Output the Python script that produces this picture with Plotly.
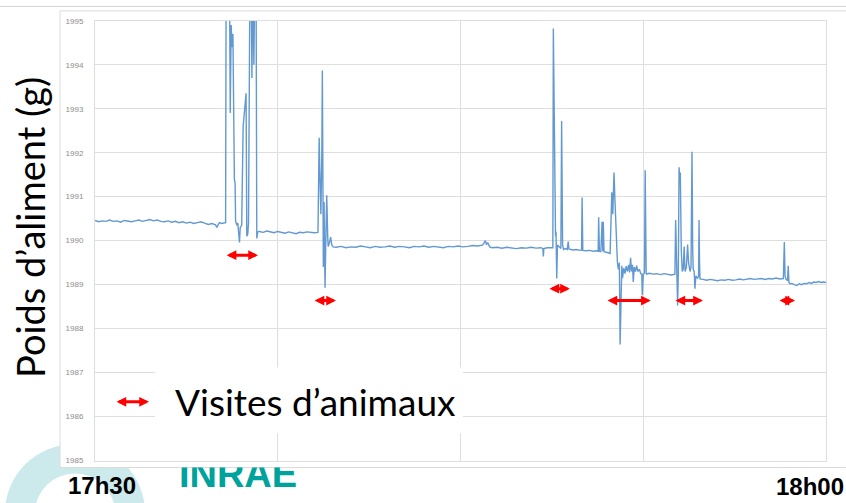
import plotly.graph_objects as go

# scale reading, minutes after 17h30 -> grams
t_min = [
    0.0, 0.15, 0.3, 0.45, 0.6, 0.75, 0.9, 1.05, 1.2, 1.35, 1.5, 1.65, 1.8, 1.95, 2.1, 2.25, 2.4, 2.55, 2.7, 2.85,
    3.0, 3.15, 3.3, 3.45, 3.6, 3.75, 3.9, 4.05, 4.2, 4.35, 4.5, 4.65, 4.8, 4.95, 5.0, 5.05, 5.1, 5.2, 5.3, 5.36,
    5.39, 5.45, 5.5, 5.55, 5.59, 5.62, 5.66, 5.72, 5.75, 5.77, 5.82, 5.86, 5.9, 5.93, 5.96, 6.02, 6.08, 6.14, 6.2,
    6.23, 6.27, 6.3, 6.34, 6.38, 6.44, 6.48, 6.52, 6.56, 6.6, 6.64, 6.68,
    6.75, 6.9, 7.05, 7.2, 7.35, 7.5, 7.65, 7.8, 7.95, 8.1, 8.25, 8.4, 8.55, 8.7, 8.85, 9.0, 9.15,
    9.2, 9.23, 9.27, 9.31, 9.33, 9.36, 9.37, 9.4, 9.42, 9.44, 9.48, 9.51, 9.55, 9.57, 9.62, 9.67, 9.72, 9.77,
    9.9, 10.1, 10.3, 10.5, 10.7, 10.9, 11.1, 11.3, 11.5, 11.7, 11.9, 12.1, 12.3, 12.5, 12.7, 12.9, 13.1, 13.3,
    13.5, 13.7, 13.9, 14.1, 14.3, 14.5, 14.7, 14.9, 15.1, 15.3, 15.5, 15.7, 15.9, 15.98, 16.02, 16.06, 16.12,
    16.2, 16.3, 16.5, 16.7, 16.9, 17.1, 17.3, 17.5, 17.7, 17.9, 18.1, 18.3, 18.38, 18.4, 18.42, 18.55, 18.7, 18.79,
    18.81, 18.86, 18.9, 18.92, 18.95, 18.98, 19.05, 19.12, 19.15, 19.19, 19.23, 19.3, 19.38, 19.42, 19.45, 19.6,
    19.75, 19.9, 19.97, 19.99, 20.02, 20.15, 20.3, 20.45, 20.6, 20.65, 20.67, 20.7, 20.76, 20.81, 20.84, 20.86,
    20.89, 21.0, 21.1, 21.14,
    21.21, 21.25, 21.3, 21.34, 21.38, 21.44, 21.48, 21.52, 21.55, 21.59, 21.62, 21.65, 21.7, 21.75, 21.8, 21.85,
    21.9, 21.94, 21.98, 22.02, 22.06, 22.09, 22.13, 22.18, 22.23, 22.28, 22.34, 22.4, 22.44, 22.46, 22.5, 22.55,
    22.58, 22.62, 22.64,
    22.75, 22.9, 23.05, 23.2, 23.35, 23.5, 23.65, 23.8,
    23.83, 23.87, 23.91, 23.94, 23.97, 24.0, 24.02, 24.06, 24.1, 24.14, 24.18, 24.2, 24.22, 24.27, 24.32, 24.36,
    24.42, 24.46, 24.5, 24.53, 24.55, 24.59, 24.62, 24.66, 24.72, 24.77, 24.79, 24.81, 24.83,
    24.95, 25.1, 25.25, 25.4, 25.55, 25.7, 25.85, 26.0, 26.15, 26.3, 26.45, 26.6, 26.75, 26.9, 27.05, 27.2,
    27.35, 27.5, 27.65, 27.8, 27.95, 28.1, 28.25,
    28.29, 28.32, 28.36, 28.42, 28.45, 28.48, 28.52,
    28.6, 28.7, 28.8, 28.9, 29.0, 29.1, 29.2, 29.3, 29.4, 29.5, 29.6, 29.7, 29.8, 29.9, 30.0,
]
weight_g = [
    1990.46, 1990.43, 1990.45, 1990.44, 1990.47, 1990.44, 1990.45, 1990.42, 1990.46, 1990.44, 1990.43, 1990.45,
    1990.47, 1990.44, 1990.46, 1990.48, 1990.45, 1990.47, 1990.44, 1990.43, 1990.45, 1990.42, 1990.44, 1990.41,
    1990.43, 1990.40, 1990.42, 1990.39, 1990.41, 1990.43, 1990.40, 1990.37, 1990.39, 1990.36, 1990.30, 1990.38,
    1990.41, 1990.39, 1990.40, 1990.41,
    1998.0, 1996.0, 1998.0, 1992.9, 1994.9, 1994.4, 1994.7, 1991.4, 1991.3, 1990.45, 1990.35, 1990.4, 1990.2,
    1989.96, 1990.3, 1990.35, 1992.6, 1992.9, 1993.35, 1990.1, 1990.15, 1990.4, 1993.5, 1998.0, 1993.7, 1996.0,
    1994.0, 1998.0, 1998.0, 1990.05, 1990.2,
    1990.21, 1990.19, 1990.22, 1990.20, 1990.18, 1990.21, 1990.19, 1990.17, 1990.20, 1990.18, 1990.16, 1990.19,
    1990.18, 1990.20, 1990.19, 1990.18, 1990.19,
    1992.34, 1991.5, 1990.6, 1992.0, 1993.87, 1990.7, 1989.4, 1990.88, 1990.3, 1988.93, 1990.2, 1991.03, 1990.1,
    1989.87, 1989.95, 1990.08, 1989.9, 1989.86,
    1989.85, 1989.87, 1989.84, 1989.86, 1989.85, 1989.88, 1989.86, 1989.84, 1989.87, 1989.85, 1989.86, 1989.88,
    1989.85, 1989.87, 1989.86, 1989.84, 1989.87, 1989.86, 1989.88, 1989.85, 1989.87, 1989.86, 1989.84, 1989.87,
    1989.86, 1989.88, 1989.86, 1989.87, 1989.89, 1989.88, 1989.90, 1989.96, 1990.0, 1989.92, 1989.95,
    1989.86, 1989.84, 1989.85, 1989.83, 1989.85, 1989.84, 1989.82, 1989.84, 1989.83, 1989.85, 1989.83, 1989.84,
    1989.82, 1989.64, 1989.82, 1989.84, 1989.83, 1989.84,
    1994.82, 1991.44, 1990.1, 1990.2, 1989.14, 1989.9, 1989.85, 1989.82, 1992.72, 1989.9, 1989.8, 1989.82,
    1989.8, 1989.98, 1989.81, 1989.79, 1989.8, 1989.78, 1989.79, 1990.98, 1989.78, 1989.77, 1989.78, 1989.76,
    1989.77, 1989.76, 1990.53, 1989.76, 1989.75, 1990.43, 1989.76, 1990.43, 1989.75, 1989.74, 1989.72, 1989.71,
    1991.1, 1990.6, 1991.55, 1990.9, 1990.25, 1989.5, 1989.35, 1989.5, 1987.64, 1989.1, 1989.43, 1989.15,
    1989.38, 1989.25, 1989.42, 1989.3, 1989.45, 1989.28, 1989.61, 1989.3, 1989.45, 1989.06, 1989.4, 1989.3,
    1989.43, 1989.3, 1989.35, 1989.25, 1989.24, 1988.76, 1989.24, 1989.26, 1991.6, 1989.26, 1989.24,
    1989.26, 1989.24, 1989.25, 1989.23, 1989.25, 1989.24, 1989.22, 1989.24,
    1990.47, 1989.5, 1988.53, 1989.3, 1991.67, 1991.4, 1991.55, 1989.8, 1989.3, 1989.35, 1989.87, 1989.5,
    1989.3, 1989.4, 1989.91, 1989.5, 1989.3, 1989.4, 1992.02, 1989.8, 1989.35, 1989.3, 1988.91, 1989.2,
    1989.15, 1989.18, 1990.47, 1989.5, 1989.13,
    1989.12, 1989.10, 1989.12, 1989.11, 1989.09, 1989.11, 1989.10, 1989.12, 1989.10, 1989.11, 1989.13, 1989.11,
    1989.12, 1989.14, 1989.12, 1989.13, 1989.14, 1989.12, 1989.14, 1989.13, 1989.15, 1989.13, 1989.14,
    1989.97, 1989.2, 1989.12, 1989.1, 1989.43, 1989.05, 1989.02,
    1989.03, 1989.0, 1988.98, 1989.02, 1989.0, 1989.03, 1989.02, 1989.05, 1989.03, 1989.06, 1989.05, 1989.07,
    1989.05, 1989.06, 1989.05,
]

# animal visits (red double arrows)
visit_start = [5.34, 8.95, 18.59, 20.97, 23.76, 28.03]
visit_end = [6.69, 9.89, 19.49, 22.81, 24.95, 28.73]
visit_y = [1989.67, 1988.64, 1988.91, 1988.64, 1988.64, 1988.64]

y_ticks = list(range(1985, 1996))

W, H = 846, 503


def px(x):
    return x / W


def py(y):
    return 1 - y / H


fig = go.Figure()
fig.add_trace(go.Scatter(x=t_min, y=weight_g, mode="lines",
                         line=dict(color="#6299d0", width=1.4),
                         hoverinfo="skip", showlegend=False))

# logo text, clipped at the bottom of the chart box
fig.add_trace(go.Scatter(x=[238], y=[21], mode="text", text=["<b>INRAE</b>"],
                         textfont=dict(family="Liberation Sans", size=38, color="#00a39c"),
                         textposition="middle center", cliponaxis=True,
                         xaxis="x2", yaxis="y2", hoverinfo="skip", showlegend=False))

grid = "#dedede"
fig.update_layout(
    width=W, height=H,
    margin=dict(l=0, r=0, t=0, b=0),
    paper_bgcolor="white", plot_bgcolor="rgba(0,0,0,0)",
    showlegend=False,
    xaxis=dict(domain=[px(95), px(826)], range=[0, 30], tick0=0, dtick=7.5,
               showticklabels=False, ticks="", showgrid=True, gridcolor=grid,
               zeroline=False, showline=True, linecolor=grid, mirror=True),
    yaxis=dict(domain=[1 - 465 / H, 1 - 17 / H], range=[1985, 1995],
               tickvals=y_ticks, ticks="", showgrid=True, gridcolor=grid,
               zeroline=False, showline=True, linecolor=grid, mirror=True,
               tickfont=dict(family="Liberation Sans", size=8, color="#8c8c8c"),
               ticklabelstandoff=9),
    xaxis2=dict(domain=[0, 1], range=[0, W], visible=False, anchor="y2"),
    yaxis2=dict(domain=[0, 31 / H], range=[0, 31], visible=False, anchor="x2"),
)

shapes = [
    dict(type="line", xref="paper", yref="paper", x0=0, x1=1, y0=py(2.5), y1=py(2.5),
         line=dict(color="#d4d4d4", width=1), layer="below"),
    dict(type="circle", xref="paper", yref="paper", x0=px(75 - 70), x1=px(75 + 70),
         y0=py(518 + 70), y1=py(518 - 70), fillcolor="#cce9eb", line=dict(width=0), layer="below"),
    dict(type="circle", xref="paper", yref="paper", x0=px(75 - 40), x1=px(75 + 40),
         y0=py(518 + 40), y1=py(518 - 40), fillcolor="white", line=dict(width=0), layer="below"),
    dict(type="rect", xref="paper", yref="paper", x0=px(60), x1=px(852), y0=py(472), y1=py(7),
         fillcolor="white", line=dict(color="#dadada", width=1), layer="below"),
    dict(type="rect", xref="paper", yref="paper", x0=px(155), x1=px(463), y0=py(437), y1=py(370),
         fillcolor="white", line=dict(width=0), layer="above"),
]
fig.update_layout(shapes=shapes)

for a, b, y in zip(visit_start, visit_end, visit_y):
    fig.add_annotation(x=b, y=y, ax=a, ay=y, xref="x", yref="y", axref="x", ayref="y",
                       text="", showarrow=True, arrowside="end+start", arrowhead=2,
                       arrowsize=0.65, arrowwidth=3, arrowcolor="#ff0000")

# legend
fig.add_annotation(x=px(149), y=py(405), xref="paper", yref="paper", ax=-34, ay=0,
                   axref="pixel", ayref="pixel", text="", showarrow=True,
                   arrowside="end+start", arrowhead=2, arrowsize=0.65, arrowwidth=3,
                   arrowcolor="#ff0000")
fig.add_annotation(x=px(315), y=py(405), xref="paper", yref="paper", showarrow=False,
                   text="Visites d’animaux", xanchor="center", yanchor="middle",
                   font=dict(family="Lato", size=37, color="black"))

fig.add_annotation(x=px(30), y=py(228), xref="paper", yref="paper", showarrow=False,
                   text="Poids d’aliment (g)", textangle=-90, xanchor="center", yanchor="middle",
                   font=dict(family="Lato", size=38, color="black"))

fig.add_annotation(x=px(102), y=py(490), xref="paper", yref="paper", showarrow=False,
                   text="<b>17h30</b>", xanchor="center", yanchor="middle",
                   font=dict(family="Liberation Sans", size=24, color="black"))
fig.add_annotation(x=px(810), y=py(491), xref="paper", yref="paper", showarrow=False,
                   text="<b>18h00</b>", xanchor="center", yanchor="middle",
                   font=dict(family="Liberation Sans", size=24, color="black"))

fig.write_html("out.html", post_script="document.body.style.margin='0px';",
               config={"displayModeBar": False})
